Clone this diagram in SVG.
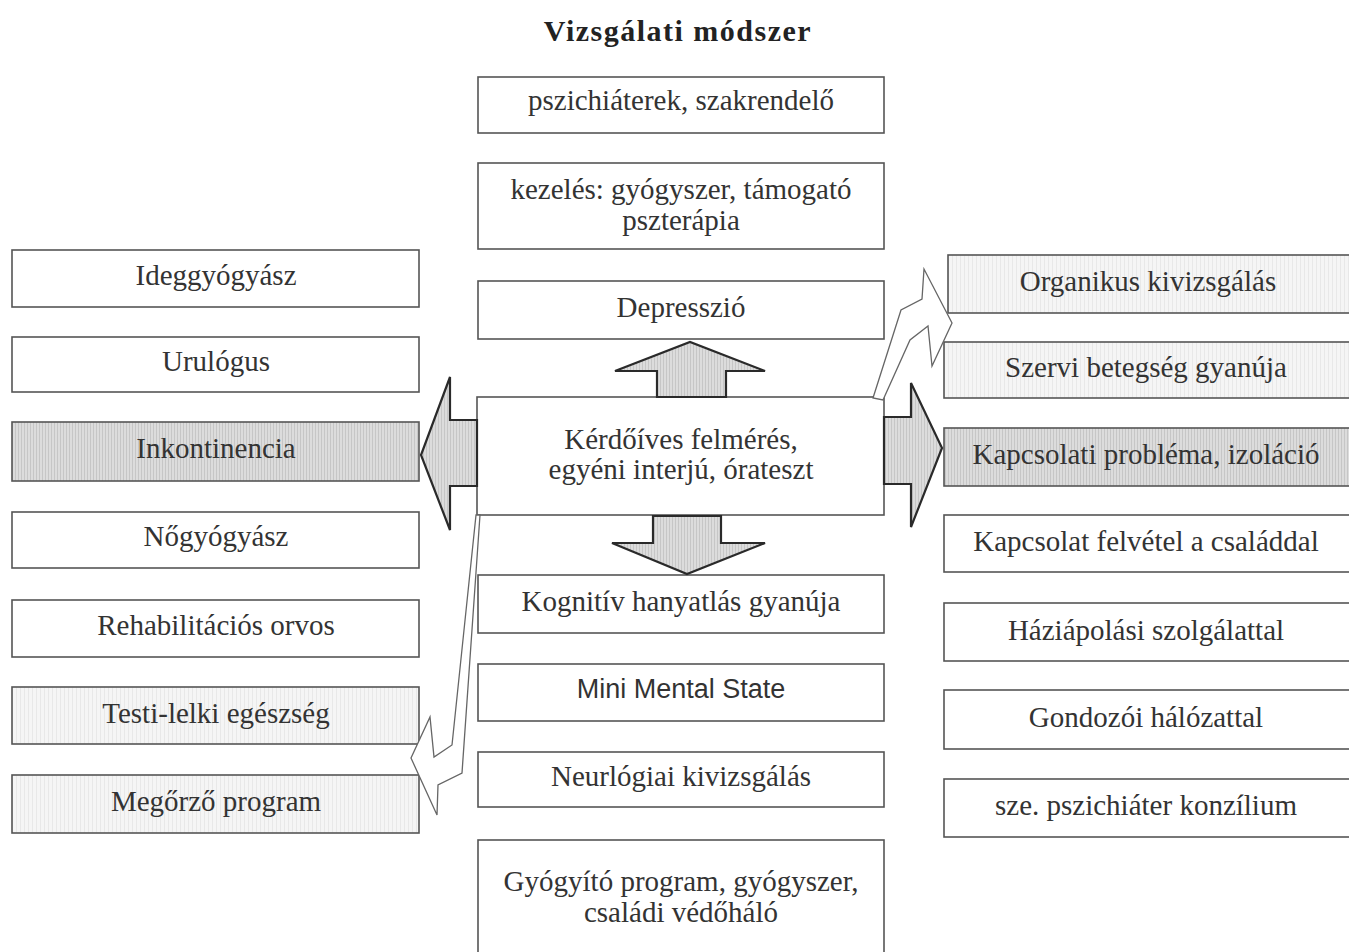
<svg xmlns="http://www.w3.org/2000/svg" width="1349" height="952" viewBox="0 0 1349 952">
<defs>
<pattern id="hatch" width="3" height="6" patternUnits="userSpaceOnUse">
<rect width="3" height="6" fill="#dcdcdc"/>
<rect width="1" height="6" fill="#c6c6c6"/>
</pattern>
<pattern id="light" width="4" height="6" patternUnits="userSpaceOnUse">
<rect width="4" height="6" fill="#f5f5f5"/>
<rect width="1" height="6" fill="#e8e8e8"/>
</pattern>
<style>
.box{fill:#fff;stroke:#555;stroke-width:1.6}
.dark{fill:url(#hatch)}
.lite{fill:url(#light)}
.t{font-family:"Liberation Serif","Times New Roman",serif;font-size:29px;fill:#333;text-anchor:middle}
.s{font-family:"Liberation Sans",Arial,sans-serif;font-size:27px;fill:#333;text-anchor:middle}
.title{font-family:"Liberation Serif","Times New Roman",serif;font-size:30px;font-weight:bold;fill:#222;text-anchor:middle;letter-spacing:1.5px}
.big{fill:url(#hatch);stroke:#2a2a2a;stroke-width:2.2;stroke-linejoin:miter}
.thin{fill:#fff;stroke:#666;stroke-width:1.3;stroke-linejoin:miter}
</style>
</defs>
<rect width="1349" height="952" fill="#fff"/>
<text class="title" x="678" y="41">Vizsgálati módszer</text>

<g id="center">
<g id="n-psz"><rect class="box" x="478" y="77" width="406" height="56"/><text class="t" x="681" y="110">pszichiáterek, szakrendelő</text></g>
<g id="n-kezeles"><rect class="box" x="478" y="163" width="406" height="86"/><text class="t" x="681" y="199">kezelés: gyógyszer, támogató</text><text class="t" x="681" y="230">pszterápia</text></g>
<g id="n-depresszio"><rect class="box" x="478" y="281" width="406" height="58"/><text class="t" x="681" y="317">Depresszió</text></g>
<g id="n-kerdoives"><rect class="box" x="477" y="397" width="407" height="118"/><text class="t" x="681" y="449">Kérdőíves felmérés,</text><text class="t" x="681" y="479">egyéni interjú, órateszt</text></g>
<g id="n-kognitiv"><rect class="box" x="478" y="575" width="406" height="58"/><text class="t" x="681" y="611">Kognitív hanyatlás gyanúja</text></g>
<g id="n-mms"><rect class="box" x="478" y="664" width="406" height="57"/><text class="s" x="681" y="698">Mini Mental State</text></g>
<g id="n-neuro"><rect class="box" x="478" y="752" width="406" height="55"/><text class="t" x="681" y="786">Neurlógiai kivizsgálás</text></g>
<g id="n-gyogyito"><rect class="box" x="478" y="840" width="406" height="125"/><text class="t" x="681" y="891">Gyógyító program, gyógyszer,</text><text class="t" x="681" y="922">családi védőháló</text></g>
</g>

<g id="left">
<g id="n-ideg"><rect class="box" x="12" y="250" width="407" height="57"/><text class="t" x="216" y="285">Ideggyógyász</text></g>
<g id="n-uro"><rect class="box" x="12" y="337" width="407" height="55"/><text class="t" x="216" y="371">Urulógus</text></g>
<g id="n-inko"><rect class="box dark" x="12" y="422" width="407" height="59"/><text class="t" x="216" y="458">Inkontinencia</text></g>
<g id="n-nogy"><rect class="box" x="12" y="512" width="407" height="56"/><text class="t" x="216" y="546">Nőgyógyász</text></g>
<g id="n-rehab"><rect class="box" x="12" y="600" width="407" height="57"/><text class="t" x="216" y="635">Rehabilitációs orvos</text></g>
<g id="n-testi"><rect class="box lite" x="12" y="687" width="407" height="57"/><text class="t" x="216" y="723">Testi-lelki egészség</text></g>
<g id="n-megorzo"><rect class="box lite" x="12" y="775" width="407" height="58"/><text class="t" x="216" y="811">Megőrző program</text></g>
</g>

<g id="right">
<g id="n-organikus"><rect class="box lite" x="948" y="255" width="405" height="58"/><text class="t" x="1148" y="291">Organikus kivizsgálás</text></g>
<g id="n-szervi"><rect class="box lite" x="944" y="342" width="409" height="56"/><text class="t" x="1146" y="377">Szervi betegség gyanúja</text></g>
<g id="n-kapcs"><rect class="box dark" x="944" y="428" width="409" height="58"/><text class="t" x="1146" y="464">Kapcsolati probléma, izoláció</text></g>
<g id="n-csalad"><rect class="box" x="944" y="515" width="409" height="57"/><text class="t" x="1146" y="551">Kapcsolat felvétel a családdal</text></g>
<g id="n-hazi"><rect class="box" x="944" y="603" width="409" height="58"/><text class="t" x="1146" y="640">Háziápolási szolgálattal</text></g>
<g id="n-gondozoi"><rect class="box" x="944" y="690" width="409" height="59"/><text class="t" x="1146" y="727">Gondozói hálózattal</text></g>
<g id="n-sze"><rect class="box" x="944" y="779" width="409" height="58"/><text class="t" x="1146" y="815">sze. pszichiáter konzílium</text></g>
</g>

<g id="connectors">
<polygon class="big" points="477,420 450,420 450,377 421,455 450,530 450,486 477,486"/>
<polygon class="big" points="884,417 911,417 911,383 942,448 911,527 911,484 884,484"/>
<polygon class="big" points="657,397 657,371 615,371 690,342 765,371 726,371 726,397"/>
<polygon class="big" points="653,516 653,543 612,543 687,574 765,543 721,543 721,516"/>
<polygon class="thin" points="873,398 901,310 922,299 924,269 952,323 932,366 928,326 910,340 883,400"/>
<polygon class="thin" points="476,515 452,745 434,757 430,717 411,758 437,815 438,785 462,773 480,515"/>
</g>
</svg>
